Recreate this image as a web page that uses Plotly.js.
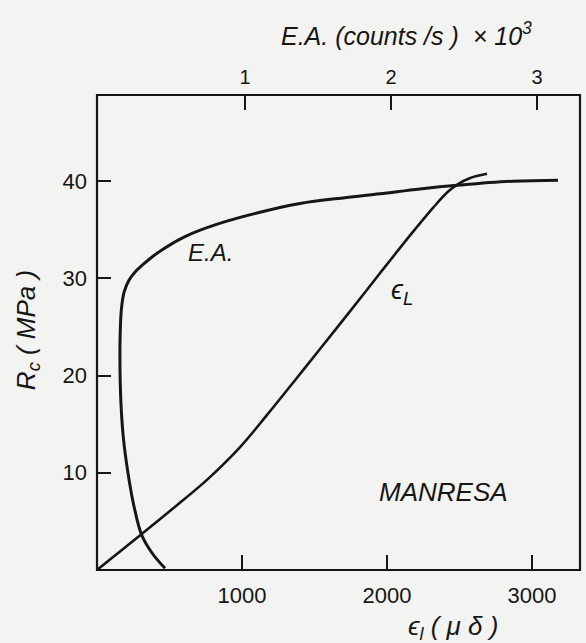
<!DOCTYPE html>
<html>
<head>
<meta charset="utf-8">
<script src="https://cdn.plot.ly/plotly-3.0.1.min.js"></script>
<style>
  html, body { margin: 0; padding: 0; background: #f3f3f1; }
  #chart { width: 586px; height: 643px; }
</style>
</head>
<body>
<div id="chart"></div>
<script>
// E.A. curve: acoustic emission (counts/s x 10^3, top axis) vs Rc (MPa)
const eaCounts = [0.452, 0.363, 0.292, 0.235, 0.195, 0.166, 0.151, 0.144, 0.144, 0.153, 0.172, 0.205, 0.250, 0.300, 0.363, 0.438, 0.589, 0.815, 1.103, 1.377, 1.685, 1.925, 2.199, 2.473, 2.836, 3.144];
const eaRc     = [0.17,  1.75,  3.6,   6.86,  10.3,  13.7,  16.9,  20.3,  23.7,  26.8,  28.6,  29.8,  30.7,  31.4,  32.2,  33.0,  34.3,  35.6,  36.8,  37.7,  38.3,  38.7,  39.2,  39.6,  40.0,  40.1];

// epsilon_L curve: longitudinal strain (micro-strain, bottom axis) vs Rc (MPa)
const elStrain = [0, 300, 530, 760, 990, 1170, 1370, 1520, 1750, 1950, 2180, 2320, 2420, 2490, 2570, 2690];
const elRc     = [0, 3.6, 6.4, 9.3, 12.7, 15.9, 19.6, 22.4, 26.7, 30.5, 34.8, 37.3, 38.9, 39.7, 40.3, 40.75];

// Tick labels
const xTicks  = [1000, 2000, 3000];
const x2Ticks = [1, 2, 3];
const yTicks  = [10, 20, 30, 40];

const ink = '#161616';
const FONT = 'Liberation Sans, Arial, sans-serif';

const traces = [
  {
    x: eaCounts, y: eaRc, xaxis: 'x2', yaxis: 'y',
    mode: 'lines', line: {color: ink, width: 3, shape: 'spline', smoothing: 1},
    hoverinfo: 'skip', showlegend: false
  },
  {
    x: elStrain, y: elRc, xaxis: 'x', yaxis: 'y',
    mode: 'lines', line: {color: ink, width: 2.6, shape: 'spline', smoothing: 1},
    hoverinfo: 'skip', showlegend: false
  }
];

const layout = {
  width: 586, height: 643,
  margin: {l: 97, r: 6, t: 95, b: 73},
  paper_bgcolor: '#f3f3f1',
  plot_bgcolor: 'rgba(0,0,0,0)',
  font: {family: FONT, color: ink, size: 22},
  showlegend: false,
  xaxis: {
    range: [0, 3331], tickvals: xTicks, ticktext: xTicks.map(String),
    ticks: 'inside', ticklen: 15, tickwidth: 2, tickcolor: ink,
    showgrid: false, zeroline: false, showline: false,
    tickfont: {size: 22, family: FONT, color: ink},
    ticklabelstandoff: 10
  },
  xaxis2: {
    overlaying: 'x', side: 'top', anchor: 'y',
    range: [-0.014, 3.295], tickvals: x2Ticks, ticktext: x2Ticks.map(String),
    ticks: 'inside', ticklen: 15, tickwidth: 2, tickcolor: ink,
    showgrid: false, zeroline: false, showline: false,
    tickfont: {size: 20, family: FONT, color: ink},
    ticklabelstandoff: 6
  },
  yaxis: {
    range: [0, 48.86], tickvals: yTicks, ticktext: yTicks.map(String),
    ticks: 'inside', ticklen: 14, tickwidth: 2, tickcolor: ink,
    showgrid: false, zeroline: false, showline: false,
    tickfont: {size: 22, family: FONT, color: ink},
    ticklabelstandoff: 9
  },
  shapes: [
    {type: 'rect', xref: 'paper', yref: 'paper', x0: 0, x1: 1, y0: 0, y1: 1,
     line: {color: ink, width: 2.2}, fillcolor: 'rgba(0,0,0,0)'}
  ],
  annotations: [
    {xref: 'paper', yref: 'paper', x: 0.64, y: 1.0, yshift: 61, xanchor: 'center', yanchor: 'middle',
     text: '<i>E.A. (counts /s )  × 10<sup>3</sup></i>', showarrow: false,
     font: {size: 25, family: FONT, color: ink}},
    {xref: 'paper', yref: 'paper', x: 0.737, y: 0, yshift: -57, xanchor: 'center', yanchor: 'middle',
     text: '<i>ϵ<sub>l</sub> ( μ δ )</i>', showarrow: false,
     font: {size: 26, family: FONT, color: ink}},
    {xref: 'paper', yref: 'paper', x: 0, xshift: -70, y: 0.505, xanchor: 'center', yanchor: 'middle',
     text: '<i>R<sub>c</sub> ( MPa )</i>', textangle: -90, showarrow: false,
     font: {size: 26, family: FONT, color: ink}},
    {xref: 'paper', yref: 'paper', x: 0.235, y: 0.669, xanchor: 'center', yanchor: 'middle',
     text: '<i>E.A.</i>', showarrow: false,
     font: {size: 24, family: FONT, color: ink}},
    {xref: 'paper', yref: 'paper', x: 0.631, y: 0.585, xanchor: 'center', yanchor: 'middle',
     text: '<i>ϵ<sub>L</sub></i>', showarrow: false,
     font: {size: 27, family: FONT, color: ink}},
    {xref: 'paper', yref: 'paper', x: 0.717, y: 0.165, xanchor: 'center', yanchor: 'middle',
     text: '<i>MANRESA</i>', showarrow: false,
     font: {size: 26, family: FONT, color: ink}}
  ]
};

Plotly.newPlot('chart', traces, layout, {staticPlot: true, displayModeBar: false});
</script>
</body>
</html>
